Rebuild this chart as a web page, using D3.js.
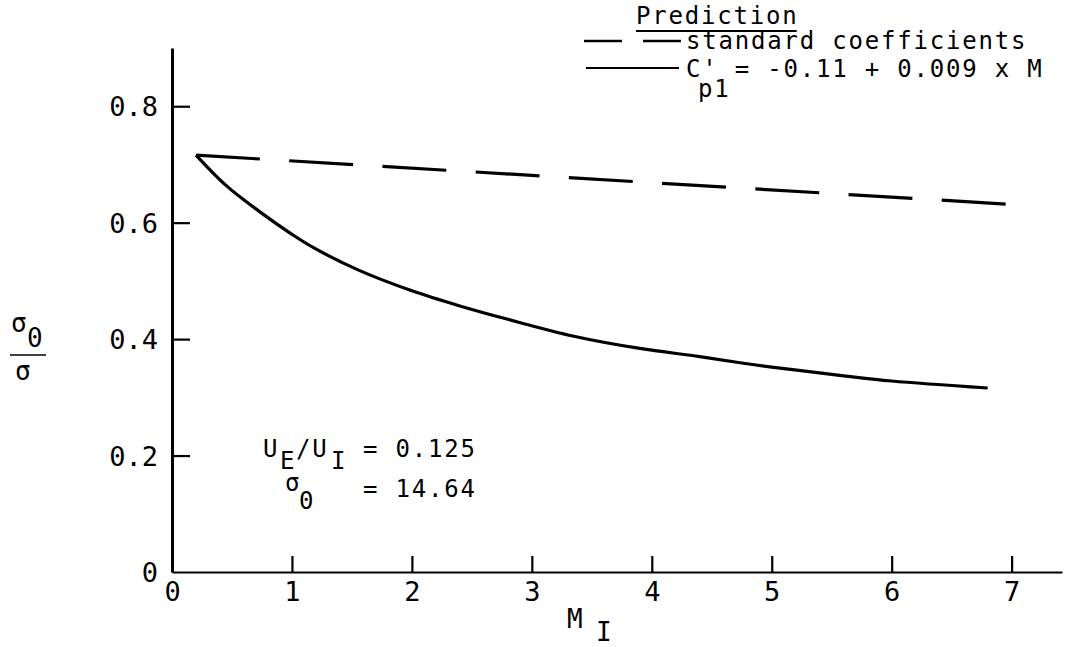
<!DOCTYPE html>
<html>
<head>
<meta charset="utf-8">
<script src="https://cdn.jsdelivr.net/npm/d3@7"></script>
<style>
  html, body { margin: 0; padding: 0; background: #fff; }
  svg text { font-family: "DejaVu Sans Mono", monospace; fill: #000; }
</style>
</head>
<body>
<svg id="chart" width="1074" height="647"></svg>
<script>
// ---- data ----
const xTicks = [0, 1, 2, 3, 4, 5, 6, 7];
const yTicks = [0, 0.2, 0.4, 0.6, 0.8];
const yTickLabels = ["0", "0.2", "0.4", "0.6", "0.8"];

// standard coefficients (dashed)
const stdMach  = [0.2, 6.95];
const stdRatio = [0.716, 0.632];

// C'p1 = -0.11 + 0.009 x M (solid)
const fitMach  = [0.2, 0.45, 0.73, 1.0, 1.18, 1.56, 2.0, 2.4, 2.8, 3.35, 3.9, 4.4, 4.75, 5.0, 5.6, 6.0, 6.8];
const fitRatio = [0.716, 0.664, 0.619, 0.580, 0.557, 0.518, 0.483, 0.457, 0.434, 0.405, 0.384, 0.370, 0.359, 0.352, 0.337, 0.328, 0.316];

const legendTitle = "Prediction";
const legendStd = "standard coefficients";
const legendFitMain = "C'";
const legendFitSub = "p1";
const legendFitRest = "= -0.11 + 0.009 x M";

// ---- layout ----
const svg = d3.select("#chart");
const FS = 27;     // tick labels
const TFS = 24;    // legend / annotation text
const LS = 1.8;    // typewriter letter spacing
const ADV = 16.25; // approx. monospace advance for TFS + LS

const x = d3.scaleLinear().domain([0, 7.42]).range([172, 1062]);
const y = d3.scaleLinear().domain([0, 0.9]).range([572, 48]);

// x axis
const xAxis = d3.axisBottom(x)
  .tickValues(xTicks)
  .tickFormat(d3.format("d"))
  .tickSizeInner(-16)
  .tickSizeOuter(0)
  .tickPadding(10);
const gx = svg.append("g").attr("transform", `translate(0,${y(0)})`).call(xAxis);
gx.select(".domain").attr("stroke", "#000").attr("stroke-width", 1.8);
gx.selectAll(".tick line").attr("stroke", "#000").attr("stroke-width", 2.2);
gx.selectAll(".tick text").attr("font-size", FS).attr("font-family", "DejaVu Sans Mono").attr("fill", "#000");

// y axis
const yAxis = d3.axisLeft(y)
  .tickValues(yTicks)
  .tickFormat((d, i) => yTickLabels[i])
  .tickSizeInner(-18)
  .tickSizeOuter(0)
  .tickPadding(14);
const gy = svg.append("g").attr("transform", `translate(${x(0)},0)`).call(yAxis);
gy.select(".domain").attr("stroke", "#000").attr("stroke-width", 3);
gy.selectAll(".tick line").attr("stroke", "#000").attr("stroke-width", 2.2);
gy.selectAll(".tick text").attr("font-size", FS).attr("font-family", "DejaVu Sans Mono").attr("fill", "#000").attr("dy", "0.36em");
gy.selectAll(".tick").filter(d => d === 0).select("line").remove();

// lines
const line = d3.line().x(d => x(d[0])).y(d => y(d[1]));
const lineCurve = d3.line().x(d => x(d[0])).y(d => y(d[1])).curve(d3.curveCatmullRom.alpha(0.5));

const dashPath = svg.append("path")
  .datum(stdMach.map((m, i) => [m, stdRatio[i]]))
  .attr("d", line)
  .attr("fill", "none").attr("stroke", "#000").attr("stroke-width", 3.2);
{
  const L = dashPath.node().getTotalLength();
  const dash = 64;
  const n = Math.round((L + 26) / (dash + 26));
  const gap = (L - n * dash) / (n - 1);
  dashPath.attr("stroke-dasharray", `${dash},${gap}`);
}

svg.append("path")
  .datum(fitMach.map((m, i) => [m, fitRatio[i]]))
  .attr("d", lineCurve)
  .attr("fill", "none").attr("stroke", "#000").attr("stroke-width", 3.2)
  .attr("stroke-linejoin", "round");

// helper: one text element made of positioned pieces (for sub/superscripts)
function richText(parts, fs = TFS) {
  const t = svg.append("text").attr("font-size", fs).attr("letter-spacing", LS);
  parts.forEach(p => {
    const ts = t.append("tspan").attr("x", p.x).attr("y", p.y).text(p.s);
    if (p.fs) ts.attr("font-size", p.fs);
  });
  return t;
}

// legend
const t1 = richText([{ x: 636, y: 24, s: legendTitle }]);
const tw = t1.node().getComputedTextLength();
svg.append("line").attr("x1", 636).attr("x2", 636 + tw - LS).attr("y1", 31).attr("y2", 31)
  .attr("stroke", "#000").attr("stroke-width", 1.8);

svg.append("line").attr("x1", 584).attr("x2", 681).attr("y1", 41).attr("y2", 41)
  .attr("stroke", "#000").attr("stroke-width", 2.6).attr("stroke-dasharray", "38,21");
richText([{ x: 686, y: 49, s: legendStd }]);

svg.append("line").attr("x1", 586).attr("x2", 679).attr("y1", 68).attr("y2", 68)
  .attr("stroke", "#000").attr("stroke-width", 2.2);
richText([
  { x: 686, y: 77, s: legendFitMain },
  { x: 698, y: 97, s: legendFitSub },
  { x: 686 + 3 * ADV, y: 77, s: legendFitRest }
]);

// annotation
richText([
  { x: 263, y: 457, s: "U" },
  { x: 280, y: 469, s: "E" },
  { x: 296, y: 457, s: "/U" },
  { x: 331, y: 469, s: "I" },
  { x: 363, y: 457, s: "= 0.125" }
]);
richText([
  { x: 285, y: 491, s: "σ" },
  { x: 299, y: 509, s: "0" },
  { x: 363, y: 497, s: "= 14.64" }
]);

// y axis title
richText([
  { x: 11, y: 332, s: "σ", fs: 26 },
  { x: 27, y: 347, s: "0", fs: 26 }
]);
svg.append("line").attr("x1", 10).attr("x2", 46).attr("y1", 355).attr("y2", 355)
  .attr("stroke", "#000").attr("stroke-width", 1.6);
richText([{ x: 15, y: 380, s: "σ", fs: 26 }]);

// x axis title
richText([
  { x: 567, y: 628, s: "M", fs: 26 },
  { x: 596, y: 641, s: "I", fs: 26 }
]);
</script>
</body>
</html>
